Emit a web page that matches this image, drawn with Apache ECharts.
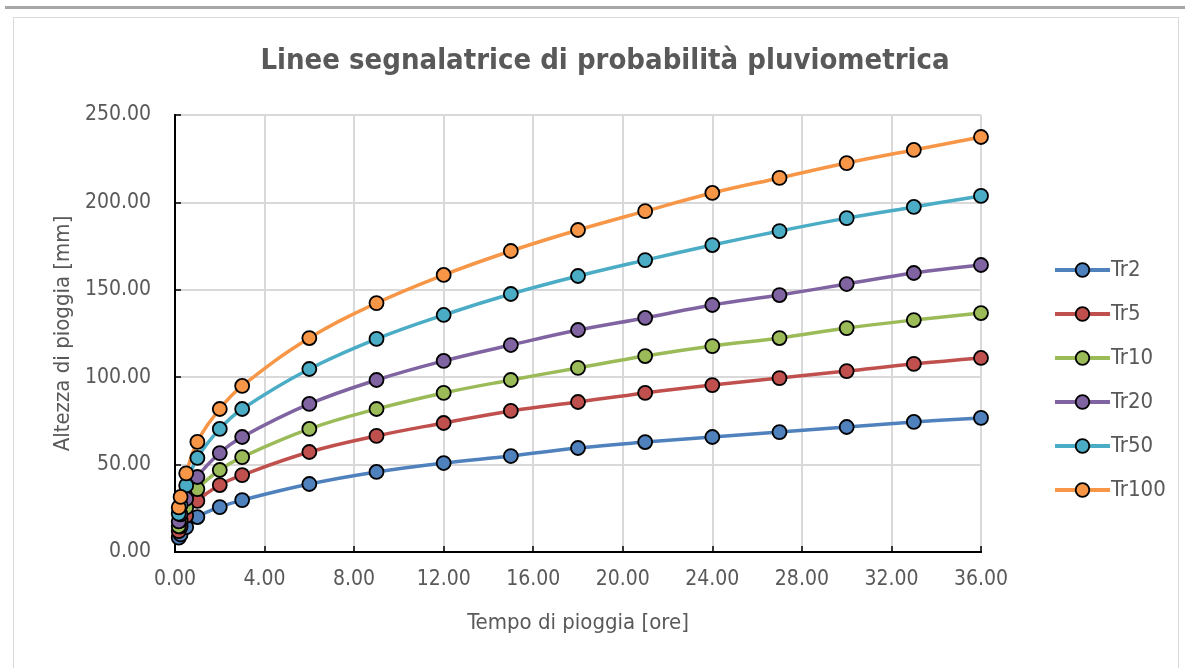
<!DOCTYPE html>
<html>
<head>
<meta charset="utf-8">
<title>Linee segnalatrice</title>
<script src="https://cdn.jsdelivr.net/npm/echarts@6/dist/echarts.min.js"></script>
<style>
	html, body { margin: 0; padding: 0; background: #fff; }
	#chart { width: 1189px; height: 668px; }
</style>
</head>
<body>
<div id="chart"></div>
<script>
// durate [ore]
var durate = [0.167, 0.25, 0.5, 1, 2, 3, 6, 9, 12, 15, 18, 21, 24, 27, 30, 33, 36];

// altezze di pioggia [mm]
var tr2 = [8.2, 10.0, 14.2, 20.0, 25.7, 29.7, 38.9, 45.8, 50.9, 54.9, 59.5, 62.9, 65.8, 68.6, 71.5, 74.4, 76.7];
var tr5 = [11.9, 14.6, 20.7, 29.2, 38.3, 44.0, 57.2, 66.4, 73.8, 80.7, 85.8, 91.0, 95.5, 99.5, 103.5, 107.6, 111.0];
var tr10 = [14.7, 18.0, 25.5, 36.0, 46.9, 54.3, 70.4, 81.8, 91.0, 98.4, 105.3, 112.1, 117.8, 122.4, 128.1, 132.7, 136.7];
var tr20 = [17.5, 21.5, 30.4, 42.9, 56.6, 65.8, 84.7, 98.4, 109.3, 118.4, 127.0, 133.9, 141.3, 147.0, 153.3, 159.6, 164.2];
var tr50 = [21.9, 26.9, 38.1, 53.8, 70.4, 81.8, 104.7, 121.9, 135.6, 147.6, 157.9, 167.0, 175.6, 183.6, 191.0, 197.4, 203.7];
var tr100 = [25.5, 31.5, 45.0, 63.0, 81.8, 95.0, 122.4, 142.4, 158.5, 172.2, 184.2, 195.0, 205.4, 214.0, 222.5, 230.0, 237.4];

var nomi = ["Tr2", "Tr5", "Tr10", "Tr20", "Tr50", "Tr100"];
var valori = [tr2, tr5, tr10, tr20, tr50, tr100];
var colori = ["#4F81BD", "#C0504D", "#9BBB59", "#8064A2", "#4BACC6", "#F79646"];

var font = "'Liberation Sans Narrow', 'DejaVu Sans Condensed', 'Roboto', sans-serif";
var grigio = "#595959";

var myChart = echarts.init(document.getElementById("chart"));

var serie = nomi.map(function (nome, i) {
	return {
		name: nome,
		type: "line",
		smooth: 0.4,
		symbol: "circle",
		symbolSize: 14,
		data: durate.map(function (t, j) {
			return [t, valori[i][j]];
		}),
		lineStyle: { color: colori[i], width: 3.5 },
		itemStyle: { color: colori[i], borderColor: "#000", borderWidth: 1.8 },
	};
});

// bordo nero superiore e destro dell'area del grafico
var bordo = {
	show: true,
	axisLine: { show: true, lineStyle: { color: "#000", width: 2 } },
	axisTick: { show: false },
	axisLabel: { show: false },
	splitLine: { show: false },
};

var option = {
	backgroundColor: "#fff",
	animation: false,
	textStyle: { fontFamily: font },
	graphic: [
		{
			type: "rect",
			shape: { x: 5, y: 6, width: 1180, height: 3 },
			style: { fill: "#a6a6a6" },
		},
		{
			type: "rect",
			shape: { x: 13.5, y: 17.5, width: 1165, height: 660 },
			style: { fill: "none", stroke: "#d9d9d9", lineWidth: 1 },
		},
	],
	title: {
		text: "Linee segnalatrice di probabilità pluviometrica",
		left: 600,
		textAlign: "center",
		top: 42,
		textStyle: {
			fontFamily: font,
			fontSize: 29,
			fontWeight: "bold",
			color: grigio,
		},
	},
	legend: {
		orient: "vertical",
		left: 1048,
		top: 254,
		itemGap: 22,
		itemWidth: 55,
		itemHeight: 17,
		data: nomi,
		lineStyle: { width: 4 },
		itemStyle: { borderColor: "#000", borderWidth: 1.8 },
		textStyle: { fontFamily: font, fontSize: 22, color: grigio, padding: [0, 0, 0, -4] },
	},
	grid: {
		left: 175,
		right: 208,
		top: 115,
		bottom: 116,
	},
	xAxis: [
		{
			type: "value",
			min: 0,
			max: 36,
			interval: 4,
			name: "Tempo di pioggia [ore]",
			nameLocation: "middle",
			nameGap: 60,
			nameTextStyle: { fontFamily: font, fontSize: 22, color: grigio },
			axisLine: { show: true, lineStyle: { color: "#000", width: 2 } },
			axisTick: { show: true, inside: true, length: 6, lineStyle: { color: "#000", width: 1.5 } },
			axisLabel: {
				fontFamily: font,
				fontSize: 21,
				color: grigio,
				margin: 17,
				formatter: function (v) { return v.toFixed(2); },
			},
			splitLine: { show: true, lineStyle: { color: "#d9d9d9", width: 2 } },
		},
		Object.assign({ type: "value", position: "top", min: 0, max: 36 }, bordo),
	],
	yAxis: [
		{
			type: "value",
			min: 0,
			max: 250,
			interval: 50,
			name: "Altezza di pioggia [mm]",
			nameLocation: "middle",
			nameGap: 100,
			nameTextStyle: { fontFamily: font, fontSize: 22, color: grigio },
			axisLine: { show: true, lineStyle: { color: "#000", width: 2 } },
			axisTick: { show: true, inside: true, length: 6, lineStyle: { color: "#000", width: 1.5 } },
			axisLabel: {
				fontFamily: font,
				fontSize: 21,
				color: grigio,
				margin: 24,
				formatter: function (v) { return v.toFixed(2); },
			},
			splitLine: { show: true, lineStyle: { color: "#d9d9d9", width: 2 } },
		},
		Object.assign({ type: "value", position: "right", min: 0, max: 250 }, bordo),
	],
	series: serie,
};

myChart.setOption(option);
</script>
</body>
</html>
